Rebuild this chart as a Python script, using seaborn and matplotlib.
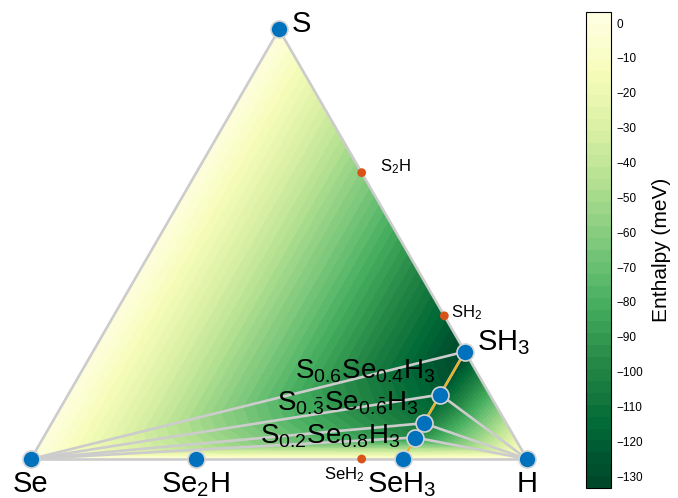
import numpy as np
import pandas as pd
import matplotlib
matplotlib.use("Agg")
import matplotlib.pyplot as plt
import matplotlib.tri as mtri
import seaborn as sns

# Phases on the S–Se–H convex hull: atomic fractions and formation enthalpy (meV/atom)
stable_labels = ["S", "Se", "H", "SH$_3$",
                 "S$_{0.6}$Se$_{0.4}$H$_3$",
                 r"S$_{0.\!\bar{3}}$Se$_{0.\!\bar{6}}$H$_3$",
                 "S$_{0.2}$Se$_{0.8}$H$_3$",
                 "SeH$_3$", "Se$_2$H"]
stable_S = [1.0, 0.0, 0.0, 0.25, 0.15, 1 / 12, 0.05, 0.0, 0.0]
stable_Se = [0.0, 1.0, 0.0, 0.0, 0.10, 2 / 12, 0.20, 0.25, 2 / 3]
stable_H = [0.0, 0.0, 1.0, 0.75, 0.75, 0.75, 0.75, 0.75, 1 / 3]
stable_dH = [0.0, 0.0, 0.0, -133.4, -122.0, -108.0, -98.0, -5.0, -3.0]

# Phases above the hull
unstable_labels = ["S$_2$H", "SH$_2$", "SeH$_2$"]
unstable_S = [2 / 3, 1 / 3, 0.0]
unstable_Se = [0.0, 0.0, 1 / 3]
unstable_H = [1 / 3, 2 / 3, 2 / 3]

# Hull facets (indices into the stable phases)
facets = [[1, 0, 3], [1, 3, 4], [1, 4, 5], [1, 5, 6], [1, 6, 7],
          [7, 6, 2], [6, 5, 2], [5, 4, 2], [4, 3, 2]]

# Fixed-H (X H3) series joined by the orange line
chain = [3, 4, 5, 6, 7]

# Colour scale of the enthalpy map
cbar_ticks = list(range(0, -131, -10))
dH_min, dH_max = -133.4, 3.2


def ternary_xy(s, h):
    s = np.asarray(s, dtype=float)
    h = np.asarray(h, dtype=float)
    return h + s / 2.0, s * np.sqrt(3) / 2.0


sns.set_style("white")
plt.rcParams["font.family"] = ["Liberation Sans", "DejaVu Sans"]
plt.rcParams["mathtext.fontset"] = "custom"
plt.rcParams["mathtext.rm"] = "Liberation Sans"
plt.rcParams["mathtext.it"] = "Liberation Sans:italic"
plt.rcParams["mathtext.bf"] = "Liberation Sans:bold"
for key in ("text.color", "axes.labelcolor", "xtick.color", "ytick.color"):
    plt.rcParams[key] = "black"

sx, sy = ternary_xy(stable_S, stable_H)
ux, uy = ternary_xy(unstable_S, unstable_H)
stable_df = pd.DataFrame({"x": sx, "y": sy, "dH": stable_dH, "label": stable_labels})
unstable_df = pd.DataFrame({"x": ux, "y": uy, "label": unstable_labels})
chain_df = stable_df.iloc[chain].reset_index(drop=True)

fig = plt.figure(figsize=(6.78, 4.98), dpi=100)
ax = fig.add_axes([0, 0, 1, 1])
unit = 496.0

# Piecewise-linear enthalpy over the hull facets
tri = mtri.Triangulation(sx, sy, triangles=facets)
levels = np.linspace(dH_min, dH_max, 41)
cf = ax.tricontourf(tri, np.asarray(stable_dH), levels=levels, cmap="YlGn_r", zorder=1)

# Facet edges (tie lines)
edges = set()
for a, b, c in facets:
    for p, q in ((a, b), (b, c), (c, a)):
        edges.add(tuple(sorted((p, q))))
for p, q in sorted(edges):
    ax.plot([sx[p], sx[q]], [sy[p], sy[q]], color="#cccccc", lw=1.9,
            solid_capstyle="round", zorder=2)

sns.lineplot(data=chain_df, x="x", y="y", sort=False, estimator=None,
             color="#EDB120", lw=1.5, ax=ax, zorder=3)
sns.scatterplot(data=unstable_df, x="x", y="y", s=40, color="#D95319",
                edgecolor="none", ax=ax, zorder=4)
sns.scatterplot(data=stable_df, x="x", y="y", s=150, color="#0072BD",
                edgecolor="#d4d4d4", linewidth=1.2, ax=ax, zorder=5)

# Label placement: (dx, dy) in pixels, alignment, font size
big, mid, small = 21, 20, 12
stable_style = [
    ((13, -3), "left", big),
    ((0, -33), "center", big),
    ((0, -33), "center", big),
    ((12, 1), "left", big),
    ((-4, 16), "right", mid),
    ((-5, 13), "right", mid),
    ((-15, -6), "right", mid),
    ((-1, -33), "center", big),
    ((-1, -33), "center", big),
]
for (x, y, lab), ((dx, dy), ha, fs) in zip(stable_df[["x", "y", "label"]].values, stable_style):
    ax.annotate(lab, xy=(x, y), xytext=(dx, dy), textcoords="offset pixels",
                ha=ha, va="baseline", fontsize=fs, color="black", zorder=6)

unstable_style = [((18, 1), "left"), ((7, -1), "left"), ((3, -20), "right")]
for (x, y, lab), ((dx, dy), ha) in zip(unstable_df[["x", "y", "label"]].values, unstable_style):
    ax.annotate(lab, xy=(x, y), xytext=(dx, dy), textcoords="offset pixels",
                ha=ha, va="baseline", fontsize=small, color="black", zorder=6)

ax.set_xlim(-31 / unit, (678 - 31) / unit)
ax.set_ylim(-(498 - 459) / unit, 459 / unit)
ax.set_xlabel("")
ax.set_ylabel("")
ax.axis("off")

cax = fig.add_axes([586 / 678, 10 / 498, 25 / 678, 476 / 498])
cb = fig.colorbar(cf, cax=cax, ticks=cbar_ticks)
cb.set_label("Enthalpy (meV)", fontsize=15, labelpad=6, color="black")
cb.ax.tick_params(labelsize=8.5, direction="in", length=3, width=0.6, pad=4,
                  colors="black")
cb.outline.set_linewidth(0.8)
cb.outline.set_edgecolor("black")

fig.savefig("out.png", dpi=100)
